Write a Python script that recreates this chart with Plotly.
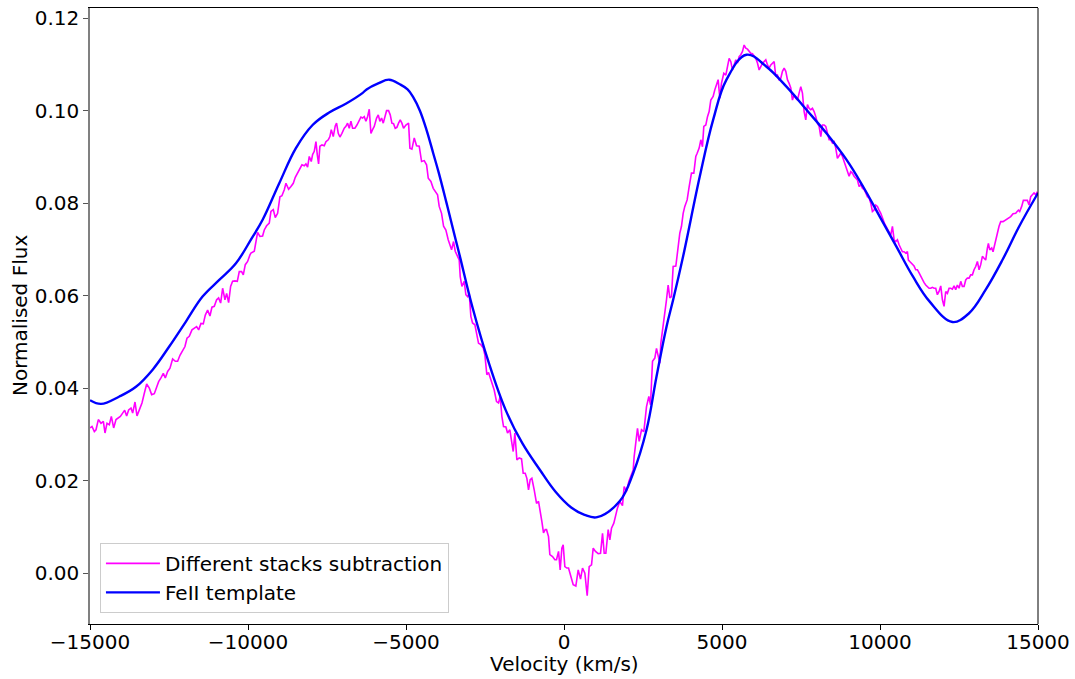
import plotly.graph_objects as go

# ---- data ----
MAG_V = [-15000,-14937,-14863,-14810,-14736,-14652,-14578,-14525,-14462,-14388,-14325,-14251,-14177,-14104,-14040,
-13967,-13903,-13840,-13777,-13703,-13650,-13576,-13513,-13439,-13355,-13281,-13207,-13123,-13049,-12965,-12891,
-12828,-12754,-12680,-12617,-12543,-12469,-12385,-12300,-12227,-12153,-12068,-11995,-11931,-11858,-11773,-11699,
-11626,-11562,-11489,-11415,-11351,-11278,-11204,-11141,-11067,-10993,-10930,-10866,-10803,-10729,-10676,-10613,
-10550,-10487,-10413,-10339,-10276,-10202,-10149,-10086,-10012,-9938,-9907,-9801,-9748,-9696,-9622,-9538,-9485,
-9411,-9327,-9274,-9200,-9137,-9063,-8989,-8926,-8852,-8799,-8715,-8641,-8567,-8504,-8430,-8357,-8293,-8219,-8167,
-8114,-8061,-7998,-7956,-7903,-7850,-7808,-7766,-7724,-7660,-7587,-7534,-7460,-7408,-7365,-7302,-7239,-7197,-7144,
-7091,-7028,-6954,-6901,-6849,-6796,-6743,-6690,-6617,-6553,-6479,-6427,-6374,-6321,-6269,-6216,-6163,-6110,-6058,
-6005,-5931,-5878,-5826,-5773,-5720,-5668,-5615,-5552,-5499,-5446,-5394,-5341,-5288,-5235,-5183,-5130,-5077,
-5003,-4919,-4876,-4813,-4739,-4666,-4581,-4507,-4423,-4349,-4296,-4212,-4138,-4054,-4001,-3949,-3875,-3811,-3738,
-3664,-3600,-3558,-3495,-3442,-3390,-3316,-3284,-3231,-3158,-3105,-3052,-2999,-2947,-2894,-2820,-2757,-2704,-2630,
-2557,-2504,-2441,-2388,-2335,-2282,-2209,-2135,-2072,-2019,-1966,-1913,-1839,-1787,-1713,-1650,-1607,-1555,-1491,
-1418,-1344,-1291,-1228,-1175,-1122,-1070,-1017,-943,-869,-806,-753,-701,-648,-595,-553,-490,-448,-363,-289,-237,
-173,-121,-68,-26,27,90,143,
207,291,375,449,523,586,660,734,797,871,924,997,1082,1156,1219,1272,1324,1398,1451,1503,1577,1640,1693,1767,1851,
1904,1978,2052,2115,2189,2220,2273,2326,2379,2453,2527,2611,2685,2737,2801,2874,2927,3001,3032,3064,3138,3191,
3243,3296,3349,3402,3454,3539,3612,3665,3718,3771,3823,3897,3961,4034,4108,4171,4214,4277,4330,4382,4424,4488,
4541,4593,4646,4720,4772,4825,4878,4931,4983,5057,
5121,5173,5226,5279,5331,5384,5437,5490,5542,5595,5648,5700,5753,5806,5859,5911,5964,6017,6070,6122,6175,6228,
6280,6333,6386,6439,6491,6544,6597,6650,6702,6755,6808,6860,6913,6966,7019,7071,7124,7177,7229,7282,7335,7388,
7440,7493,7546,7599,7651,7704,7757,7809,7862,7915,7968,8020,8073,8126,8179,8231,8284,8337,8390,8442,8495,8548,
8600,8653,8706,8759,8811,8864,8917,8969,9022,9075,9128,9180,9233,9286,9339,9391,9444,9497,9549,9602,9655,9708,
9760,9813,9866,9918,9971,10024,
10150,10266,10340,10393,10446,10498,10551,10604,10657,10709,10762,10815,10867,10899,10941,11005,11078,11131,11184,
11237,11289,11342,11395,11447,11500,11553,11606,11658,11711,11764,11816,11869,11922,11975,12027,12080,12133,12186,
12238,12291,12344,12396,12449,12502,12555,12607,12660,12713,12765,12818,12871,12924,12976,13029,13082,13135,13187,
13240,13293,13345,13398,13430,13472,13535,13577,13630,13662,13715,13767,13820,13894,13978,14062,14136,14210,14295,
14379,14421,14484,14537,14590,14664,14717,14769,14822,14875,14928,14980]

MAG_F = [0.0314,0.0317,0.0306,0.0310,0.0332,0.0324,0.0328,0.0303,0.0324,0.0321,0.0339,0.0314,0.0332,0.0335,0.0339,
0.0346,0.0352,0.0340,0.0353,0.0357,0.0346,0.0370,0.0340,0.0353,0.0368,0.0389,0.0409,0.0400,0.0386,0.0388,0.0404,
0.0414,0.0422,0.0432,0.0422,0.0436,0.0443,0.0463,0.0458,0.0458,0.0471,0.0483,0.0490,0.0508,0.0512,0.0526,0.0530,
0.0533,0.0526,0.0540,0.0539,0.0558,0.0569,0.0556,0.0575,0.0577,0.0591,0.0595,0.0584,0.0616,0.0591,0.0605,0.0585,
0.0620,0.0631,0.0632,0.0631,0.0652,0.0652,0.0645,0.0667,0.0674,0.0688,0.0692,0.0696,0.0713,0.0737,0.0728,0.0729,0.0742,
0.0751,0.0757,0.0782,0.0786,0.0769,0.0778,0.0814,0.0816,0.0829,0.0843,0.0830,0.0836,0.0843,0.0856,0.0865,0.0874,0.0883,0.0881,0.0885,
0.0878,0.0901,0.0890,0.0905,0.0912,0.0933,0.0905,0.0885,0.0923,0.0926,0.0924,0.0933,0.0937,0.0944,0.0959,0.0944,0.0967,0.0973,0.0951,
0.0943,0.0951,0.0962,0.0966,0.0973,0.0962,0.0977,0.0962,0.0962,0.0969,0.0980,0.0986,0.0984,0.0987,0.0977,0.0987,0.1003,0.0951,0.0959,
0.0966,0.0984,0.0991,0.0977,0.0984,0.0973,0.0989,0.1000,0.1000,0.0991,0.0973,0.0972,0.0962,0.0964,0.0973,0.0980,0.0973,0.0962,
0.0969,0.0973,0.0919,0.0917,0.0941,0.0924,0.0923,0.0890,0.0892,0.0883,0.0854,0.0847,0.0832,0.0822,0.0818,0.0793,0.0778,0.0750,0.0742,
0.0721,0.0706,0.0699,0.0717,0.0696,0.0688,0.0677,0.0641,0.0620,0.0631,0.0602,0.0598,0.0605,0.0555,0.0541,0.0537,0.0512,0.0497,0.0494,
0.0487,0.0472,0.0429,0.0434,0.0422,0.0411,0.0396,0.0371,0.0368,0.0382,0.0339,0.0317,0.0316,0.0303,0.0310,0.0281,0.0263,0.0303,0.0245,
0.0249,0.0247,0.0216,0.0216,0.0205,0.0180,0.0202,0.0205,0.0180,0.0151,0.0155,0.0137,0.0112,0.0087,0.0094,0.0094,0.0079,0.0040,0.0036,0.0029,0.0029,
0.0047,0.0007,0.0054,0.0061,0.0014,0.0011,0.0011,
-0.0004,-0.0025,-0.0028,0.0007,-0.0013,0.0011,0.0000,-0.0049,0.0014,0.0018,0.0054,0.0047,0.0042,0.0043,0.0086,0.0043,0.0043,0.0094,0.0072,0.0097,0.0108,0.0130,0.0141,0.0155,0.0146,
0.0187,0.0177,0.0198,0.0209,0.0223,0.0252,0.0288,0.0313,0.0285,0.0310,0.0306,0.0360,0.0382,0.0364,0.0458,0.0465,0.0486,0.0458,0.0454,0.0497,0.0533,0.0555,
0.0591,0.0623,0.0595,0.0598,0.0663,0.0664,0.0706,0.0735,0.0750,0.0778,0.0793,0.0807,0.0836,0.0865,0.0865,0.0901,0.0908,0.0919,0.0937,0.0922,0.0966,0.0969,
0.0987,0.0998,0.1023,0.1031,0.1045,0.1059,0.1067,0.1027,0.1059,0.1081,
0.1077,0.1095,0.1113,0.1106,0.1088,0.1099,0.1110,0.1103,0.1117,0.1121,0.1128,0.1142,0.1135,0.1133,0.1128,0.1124,0.1123,0.1117,0.1113,0.1103,0.1088,0.1095,
0.1103,0.1106,0.1110,0.1099,0.1092,0.1099,0.1103,0.1106,0.1074,0.1077,0.1067,0.1070,0.1085,0.1092,0.1085,0.1067,0.1059,0.1049,0.1023,0.1034,0.1027,0.1023,
0.1038,0.1052,0.1038,0.0998,0.0980,0.1013,0.1005,0.1002,0.1005,0.0998,0.0987,0.0973,0.0966,0.0944,0.0969,0.0969,0.0966,0.0951,0.0937,0.0937,0.0930,0.0933,
0.0919,0.0897,0.0904,0.0908,0.0901,0.0890,0.0879,0.0872,0.0858,0.0868,0.0865,0.0858,0.0854,0.0850,0.0836,0.0840,0.0832,0.0829,0.0822,0.0814,0.0811,0.0800,
0.0782,0.0785,0.0796,0.0793,0.0785,0.0778,
0.0755,0.0742,0.0731,0.0750,0.0721,0.0717,0.0721,0.0710,0.0703,0.0695,0.0695,0.0692,0.0695,0.0677,0.0674,0.0670,0.0664,0.0656,0.0656,
0.0649,0.0641,0.0634,0.0628,0.0623,0.0620,0.0616,0.0616,0.0618,0.0616,0.0616,0.0602,0.0609,0.0621,0.0591,0.0577,0.0609,0.0605,0.0616,
0.0616,0.0614,0.0621,0.0613,0.0623,0.0616,0.0631,0.0620,0.0620,0.0634,0.0638,0.0638,0.0645,0.0645,0.0656,0.0663,0.0674,0.0656,0.0667,
0.0685,0.0681,0.0677,0.0703,0.0713,0.0699,0.0703,0.0695,0.0713,0.0717,0.0735,0.0750,0.0760,0.0760,0.0764,0.0767,0.0771,0.0777,0.0778,
0.0785,0.0782,0.0793,0.0806,0.0806,0.0806,0.0796,0.0814,0.0818,0.0822,0.0818,0.0825]

TPL_V = [-15000,-14650,-14070,-13545,-13017,-12492,-11965,-11438,-10910,-10381,-9884,-9537,-9011,-8484,-7956,-7431,
-6905,-6379,-6247,-5880,-5532,-5193,-4950,-4777,-4560,-4349,-4139,-3960,-3716,-3428,-3295,-2901,-2376,-1848,-1320,-760,-268,
228,650,1050,1767,2188,2612,2928,3244,3454,3770,4298,4719,5142,5774,6408,7040,7673,8306,8938,9464,9992,10520,
11046,11573,12292,12817,13345,13873,14399,15000]
TPL_F = [0.0374,0.0366,0.0382,0.0403,0.0440,0.0490,0.0544,0.0598,0.0634,0.0670,0.0724,0.0764,0.0843,0.0919,0.0969,
0.0996,0.1015,0.1038,0.1046,0.1059,0.1067,0.1057,0.1046,0.1030,0.1000,0.0958,0.0908,0.0865,0.0800,0.0721,0.0685,0.0576,0.0454,
0.0353,0.0281,0.0223,0.0176,0.0142,0.0126,0.0121,0.0156,0.0216,0.0310,0.0425,0.0533,0.0591,0.0685,0.0858,0.0980,
0.1067,0.1121,0.1095,0.1052,0.1002,0.0951,0.0894,0.0836,0.0771,0.0706,0.0641,0.0587,0.0543,0.0562,0.0613,0.0677,
0.0749,0.0822]

X_TICKS = [-15000, -10000, -5000, 0, 5000, 10000, 15000]
X_LABELS = ["\u221215000", "\u221210000", "\u22125000", "0", "5000", "10000", "15000"]
Y_TICKS = [0.0, 0.02, 0.04, 0.06, 0.08, 0.10, 0.12]
Y_LABELS = ["0.00", "0.02", "0.04", "0.06", "0.08", "0.10", "0.12"]

FONT = "DejaVu Sans"

fig = go.Figure()
fig.add_trace(go.Scatter(x=MAG_V, y=MAG_F, mode="lines", name="Different stacks subtraction",
                         line=dict(color="#ff00ff", width=1.6)))
fig.add_trace(go.Scatter(x=TPL_V, y=TPL_F, mode="lines", name="FeII template",
                         line=dict(color="#0000ff", width=2.4, shape="spline", smoothing=1.1)))

fig.update_layout(
    width=1075, height=679,
    margin=dict(l=90, r=37, t=8, b=55, autoexpand=False),
    paper_bgcolor="white", plot_bgcolor="white",
    font=dict(family=FONT, size=20, color="black"),
    showlegend=True,
    legend=dict(x=0.0105, y=0.018, xanchor="left", yanchor="bottom",
                bgcolor="rgba(255,255,255,0.8)", bordercolor="#cccccc", borderwidth=1,
                itemwidth=54,
                font=dict(family=FONT, size=20, color="black"), tracegroupgap=0),
    xaxis=dict(range=[-15000, 15000], tickvals=X_TICKS, ticktext=X_LABELS,
               ticks="outside", ticklen=5, tickwidth=1, tickcolor="black",
               showline=True, linecolor="black", linewidth=1, mirror=True,
               showgrid=False, zeroline=False, tickfont=dict(size=20),
               ticklabelstandoff=-5, ticklabeloverflow="allow"),
    yaxis=dict(range=[-0.011, 0.1222], tickvals=Y_TICKS, ticktext=Y_LABELS,
               ticks="outside", ticklen=5, tickwidth=1, tickcolor="#555555",
               showline=True, linecolor="#808080", linewidth=1.6, mirror=False,
               showgrid=False, zeroline=False, tickfont=dict(size=20),
               ticklabeloverflow="allow"),
    annotations=[
        dict(text="Velocity (km/s)", xref="paper", yref="paper", x=0.5, y=-0.065,
             xanchor="center", yanchor="middle", showarrow=False, font=dict(size=20)),
        dict(text="Normalised Flux", xref="paper", yref="paper", x=-0.0738, y=0.5,
             xanchor="center", yanchor="middle", textangle=-90, showarrow=False, font=dict(size=20)),
    ],
    shapes=[dict(type="line", xref="paper", yref="paper", x0=1, x1=1, y0=0, y1=1,
                 line=dict(color="black", width=1))],
)

# remove the default 8px page margin so the figure sits at the window origin
fig.write_html("out.html", config={"displayModeBar": False},
               post_script="document.body.style.margin='0px';")
